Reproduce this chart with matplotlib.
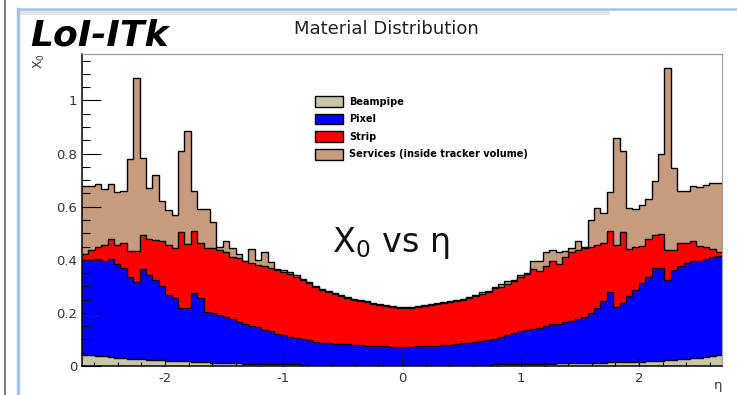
import numpy as np
import matplotlib
matplotlib.use("Agg")
import matplotlib.pyplot as plt
from matplotlib.patches import Patch, Rectangle
from matplotlib.lines import Line2D
from matplotlib.ticker import MultipleLocator

plt.rcParams['font.family'] = ['DejaVu Sans']
plt.rcParams['axes.unicode_minus'] = False

# eta binning of the histograms
eta_min, eta_max, nbins = -2.7, 2.7, 100

# stacked levels (X0), bin by bin starting at eta = -2.7
beampipe_top = [0.042, 0.040, 0.038, 0.036, 0.034, 0.032, 0.030, 0.028, 0.027, 0.025,
                0.024, 0.022, 0.021, 0.020, 0.019, 0.018, 0.017, 0.016, 0.015, 0.014,
                0.013, 0.012, 0.011, 0.011, 0.010, 0.009, 0.009, 0.008, 0.008, 0.007,
                0.007, 0.006, 0.006, 0.006, 0.005, 0.005, 0.005, 0.005, 0.004, 0.004,
                0.004, 0.004, 0.004, 0.004, 0.004, 0.004, 0.004, 0.004, 0.004, 0.004,
                0.004, 0.004, 0.004, 0.004, 0.004, 0.004, 0.004, 0.004, 0.004, 0.004,
                0.005, 0.005, 0.005, 0.005, 0.006, 0.006, 0.006, 0.007, 0.007, 0.008,
                0.008, 0.008, 0.009, 0.009, 0.010, 0.010, 0.011, 0.011, 0.012, 0.012,
                0.013, 0.013, 0.014, 0.014, 0.015, 0.015, 0.016, 0.016, 0.017, 0.018,
                0.019, 0.021, 0.023, 0.025, 0.027, 0.029, 0.032, 0.035, 0.038, 0.042]

pixel_top = [0.398, 0.398, 0.404, 0.394, 0.403, 0.385, 0.369, 0.337, 0.316, 0.366,
             0.343, 0.325, 0.302, 0.268, 0.255, 0.218, 0.218, 0.274, 0.255, 0.205,
             0.201, 0.192, 0.184, 0.176, 0.167, 0.158, 0.152, 0.146, 0.136, 0.130,
             0.121, 0.116, 0.111, 0.104, 0.101, 0.097, 0.092, 0.088, 0.086, 0.084,
             0.083, 0.082, 0.080, 0.079, 0.077, 0.076, 0.075, 0.074, 0.073, 0.073,
             0.073, 0.073, 0.074, 0.075, 0.076, 0.077, 0.078, 0.080, 0.083, 0.086,
             0.088, 0.092, 0.096, 0.098, 0.102, 0.108, 0.117, 0.123, 0.130, 0.136,
             0.140, 0.142, 0.151, 0.158, 0.160, 0.165, 0.170, 0.176, 0.186, 0.199,
             0.218, 0.243, 0.277, 0.224, 0.237, 0.262, 0.287, 0.312, 0.335, 0.369,
             0.369, 0.325, 0.362, 0.375, 0.387, 0.394, 0.397, 0.403, 0.410, 0.415]

strip_top = [0.421, 0.438, 0.450, 0.457, 0.478, 0.457, 0.465, 0.434, 0.434, 0.494,
             0.479, 0.473, 0.469, 0.457, 0.444, 0.505, 0.459, 0.507, 0.465, 0.444,
             0.444, 0.435, 0.428, 0.410, 0.405, 0.395, 0.387, 0.380, 0.377, 0.369,
             0.362, 0.355, 0.347, 0.337, 0.325, 0.312, 0.297, 0.287, 0.277, 0.272,
             0.262, 0.255, 0.250, 0.245, 0.240, 0.234, 0.229, 0.226, 0.222, 0.220,
             0.220, 0.219, 0.222, 0.225, 0.228, 0.232, 0.236, 0.241, 0.244, 0.250,
             0.255, 0.262, 0.270, 0.280, 0.293, 0.299, 0.309, 0.321, 0.337, 0.345,
             0.365, 0.356, 0.377, 0.394, 0.385, 0.410, 0.431, 0.438, 0.444, 0.450,
             0.457, 0.465, 0.507, 0.457, 0.503, 0.440, 0.448, 0.453, 0.478, 0.494,
             0.498, 0.438, 0.438, 0.463, 0.465, 0.469, 0.453, 0.450, 0.440, 0.431]

services_top = [0.679, 0.679, 0.686, 0.667, 0.686, 0.655, 0.660, 0.778, 1.086, 0.782,
                0.670, 0.718, 0.623, 0.589, 0.570, 0.809, 0.884, 0.660, 0.590, 0.592,
                0.543, 0.450, 0.469, 0.444, 0.423, 0.397, 0.440, 0.400, 0.429, 0.390,
                0.365, 0.360, 0.353, 0.343, 0.329, 0.316, 0.301, 0.291, 0.281, 0.276,
                0.266, 0.259, 0.254, 0.249, 0.244, 0.238, 0.233, 0.230, 0.226, 0.224,
                0.224, 0.223, 0.226, 0.229, 0.232, 0.236, 0.240, 0.245, 0.248, 0.254,
                0.259, 0.266, 0.280, 0.284, 0.297, 0.309, 0.320, 0.325, 0.341, 0.352,
                0.394, 0.397, 0.431, 0.438, 0.428, 0.432, 0.445, 0.469, 0.450, 0.551,
                0.595, 0.576, 0.654, 0.859, 0.811, 0.595, 0.591, 0.608, 0.629, 0.698,
                0.799, 1.123, 0.746, 0.660, 0.660, 0.679, 0.674, 0.683, 0.689, 0.689]

labels = ["Beampipe", "Pixel", "Strip", "Services (inside tracker volume)"]
colors = ["#c8c5a8", "#0000ff", "#ff0000", "#c79b7d"]
xticks = [-2, -1, 0, 1, 2]
yticks = [0, 0.2, 0.4, 0.6, 0.8, 1.0]
ytick_labels = ["0", "0.2", "0.4", "0.6", "0.8", "1"]

W, H = 737, 395
fig = plt.figure(figsize=(W / 100, H / 100), dpi=100)
ax = fig.add_axes([82 / W, 29 / H, 640 / W, 312 / H])

edges = np.linspace(eta_min, eta_max, nbins + 1)
# THStack style: every level filled from zero, drawn top-down
for top, col in zip([services_top, strip_top, pixel_top, beampipe_top], colors[::-1]):
    ax.stairs(top, edges, baseline=0, fill=True, color=col, lw=0)
    ax.stairs(top, edges, baseline=None, color="black", lw=1.0)

ax.set_xlim(eta_min, eta_max)
ax.set_ylim(0, 1.175)
ax.set_xticks(xticks)
ax.set_xticklabels([str(t) for t in xticks])
ax.set_yticks(yticks)
ax.set_yticklabels(ytick_labels)
ax.xaxis.set_minor_locator(MultipleLocator(0.2))
ax.yaxis.set_minor_locator(MultipleLocator(0.05))
ax.set_axisbelow(False)

ax.tick_params(axis="both", which="both", direction="in", top=False, right=False,
               width=0.8, labelcolor="#333333", labelsize=9.5)
ax.tick_params(axis="y", which="major", length=13.5, pad=3.6)
ax.tick_params(axis="y", which="minor", length=5.5)
ax.tick_params(axis="x", which="major", length=6, pad=4)
ax.tick_params(axis="x", which="minor", length=3)
for s in ["top", "right"]:
    ax.spines[s].set_color("#a0a0a0")
    ax.spines[s].set_linewidth(0.9)
for s in ["left", "bottom"]:
    ax.spines[s].set_color("black")
    ax.spines[s].set_linewidth(1.1)

handles = [Patch(facecolor=c, edgecolor="black", lw=1) for c in colors]
ax.legend(handles, labels, loc="upper left", bbox_to_anchor=(315 / W, 1 - 96 / H),
          bbox_transform=fig.transFigure, frameon=False,
          prop=dict(weight="bold", size=7), handlelength=2.88, handleheight=1.34,
          labelspacing=0.69, handletextpad=0.62, borderpad=0, borderaxespad=0)

# titles and labels
fig.text(386 / W, 1 - 34 / H, "Material Distribution", ha="center", va="baseline",
         fontsize=13, color="#222222")
fig.text(30 / W, 1 - 45 / H, "LoI-ITk", ha="left", va="baseline", fontsize=26,
         fontweight="bold", fontstyle="italic", color="black")
fig.text(332 / W, 1 - 252 / H, "X$_0$ vs η", ha="left", va="baseline", fontsize=24,
         color="#111111")
fig.text(722 / W, 1 - 386 / H, "η", ha="right", va="center", fontsize=9.5, color="#333333")
fig.text(39 / W, 1 - 61 / H, "X$_0$", ha="center", va="center", rotation=90,
         fontsize=9, color="#333333")

# slide frame around the picture
fig.add_artist(Rectangle((18 / W, 1 - 15 / H), 592 / W, 5 / H, transform=fig.transFigure,
                         color="#e4e4e4", lw=0))
fig.add_artist(Line2D([18 / W, 1], [1 - 9 / H, 1 - 9 / H], transform=fig.transFigure,
                      color="#a6c2e4", lw=1.8))
fig.add_artist(Line2D([18 / W, 18 / W], [0, 1 - 9 / H], transform=fig.transFigure,
                      color="#a6c2e4", lw=2.5))
fig.add_artist(Line2D([5 / W, 5 / W], [0, 1], transform=fig.transFigure,
                      color="#5a6270", lw=1.2))

fig.savefig("out.png", dpi=100)
